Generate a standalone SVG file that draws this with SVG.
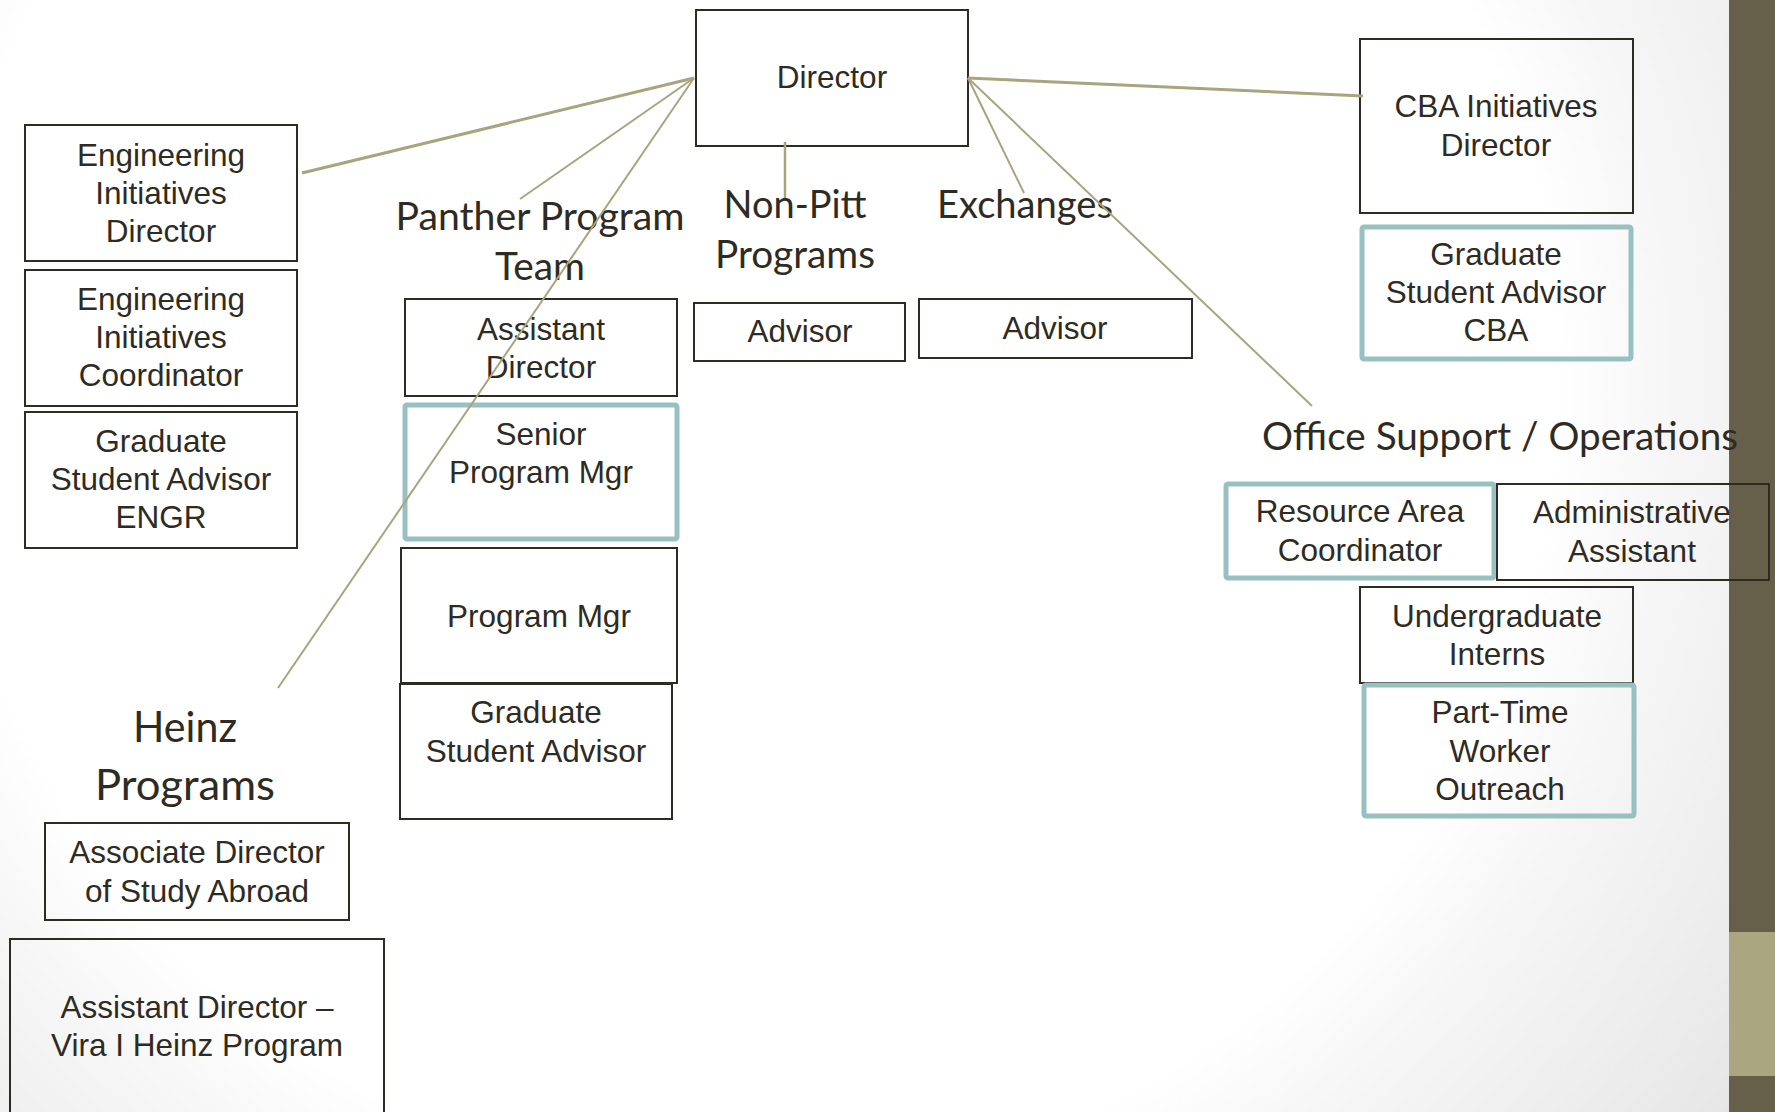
<svg xmlns="http://www.w3.org/2000/svg" width="1775" height="1112" viewBox="0 0 1775 1112">
  <defs>
    <radialGradient id="bg" gradientUnits="userSpaceOnUse" cx="750" cy="380" r="1300">
      <stop offset="0" stop-color="#ffffff"/>
      <stop offset="0.62" stop-color="#ffffff"/>
      <stop offset="0.7" stop-color="#f7f7f7"/>
      <stop offset="1" stop-color="#e2e2e2"/>
    </radialGradient>
    <style>
      .box { fill: none; stroke: #2e2b23; stroke-width: 2; }
      .hl { fill: none; stroke: #99c0c0; stroke-width: 5; }
      .t { font-family: "Liberation Sans", Arial, sans-serif; font-size: 31.5px; fill: #2e2b23; text-anchor: middle; }
      .h { font-family: Lato, "Open Sans", sans-serif; font-size: 38px; fill: #2e2b23; text-anchor: middle; }
      .hb { font-family: Lato, "Open Sans", sans-serif; font-size: 43px; fill: #2e2b23; text-anchor: middle; }
      .ln { stroke: #a8a47e; fill: none; stroke-linecap: butt; }
    </style>
  </defs>

  <!-- backdrop and side band -->
  <rect x="0" y="0" width="1775" height="1112" fill="url(#bg)"/>
  <rect x="1729" y="0" width="46" height="1112" fill="#665f49"/>
  <rect x="1729" y="932" width="46" height="144" fill="#a9a680"/>

  <!-- top -->
  <g id="director">
    <rect class="box" x="696" y="10" width="272" height="136"/>
    <text class="t" x="832" y="88">Director</text>
  </g>

  <!-- engineering column -->
  <g id="eng-initiatives-director">
    <rect class="box" x="25" y="125" width="272" height="136"/>
    <text class="t" x="161" y="166">Engineering</text>
    <text class="t" x="161" y="204">Initiatives</text>
    <text class="t" x="161" y="242">Director</text>
  </g>
  <g id="eng-initiatives-coordinator">
    <rect class="box" x="25" y="270" width="272" height="136"/>
    <text class="t" x="161" y="310">Engineering</text>
    <text class="t" x="161" y="348">Initiatives</text>
    <text class="t" x="161" y="386">Coordinator</text>
  </g>
  <g id="grad-advisor-engr">
    <rect class="box" x="25" y="412" width="272" height="136"/>
    <text class="t" x="161" y="452">Graduate</text>
    <text class="t" x="161" y="490">Student Advisor</text>
    <text class="t" x="161" y="528">ENGR</text>
  </g>

  <!-- Panther Program team -->
  <g id="panther-team">
    <text class="h" x="540" y="230" textLength="289" lengthAdjust="spacingAndGlyphs">Panther Program</text>
    <text class="h" x="540" y="280" textLength="90" lengthAdjust="spacingAndGlyphs">Team</text>
  </g>
  <g id="assistant-director">
    <rect class="box" x="405" y="299" width="272" height="97"/>
    <text class="t" x="541" y="340">Assistant</text>
    <text class="t" x="541" y="378">Director</text>
  </g>
  <g id="senior-program-mgr">
    <rect class="hl" x="405" y="405" width="272" height="134" rx="2"/>
    <text class="t" x="541" y="445">Senior</text>
    <text class="t" x="541" y="483">Program Mgr</text>
  </g>
  <g id="program-mgr">
    <rect class="box" x="401" y="548" width="276" height="135"/>
    <text class="t" x="539" y="627">Program Mgr</text>
  </g>
  <g id="grad-advisor-panther">
    <rect class="box" x="400" y="684" width="272" height="135"/>
    <text class="t" x="536" y="723">Graduate</text>
    <text class="t" x="536" y="762">Student Advisor</text>
  </g>

  <!-- Heinz programs -->
  <g id="heinz-programs">
    <text class="hb" x="185" y="742" textLength="104" lengthAdjust="spacingAndGlyphs">Heinz</text>
    <text class="hb" x="185" y="800" textLength="180" lengthAdjust="spacingAndGlyphs">Programs</text>
  </g>
  <g id="associate-director-study-abroad">
    <rect class="box" x="45" y="823" width="304" height="97"/>
    <text class="t" x="197" y="863">Associate Director</text>
    <text class="t" x="197" y="902">of Study Abroad</text>
  </g>
  <g id="assistant-director-vira-heinz">
    <rect class="box" x="10" y="939" width="374" height="200"/>
    <text class="t" x="197" y="1018">Assistant Director –</text>
    <text class="t" x="197" y="1056">Vira I Heinz Program</text>
  </g>

  <!-- Non-Pitt programs and exchanges -->
  <g id="non-pitt-programs">
    <text class="h" x="795" y="218" textLength="143" lengthAdjust="spacingAndGlyphs">Non-Pitt</text>
    <text class="h" x="795" y="268" textLength="160" lengthAdjust="spacingAndGlyphs">Programs</text>
  </g>
  <g id="advisor-non-pitt">
    <rect class="box" x="694" y="303" width="211" height="58"/>
    <text class="t" x="800" y="342">Advisor</text>
  </g>
  <g id="exchanges">
    <text class="h" x="1025" y="218" textLength="176" lengthAdjust="spacingAndGlyphs">Exchanges</text>
  </g>
  <g id="advisor-exchanges">
    <rect class="box" x="919" y="299" width="273" height="59"/>
    <text class="t" x="1055" y="339">Advisor</text>
  </g>

  <!-- CBA -->
  <g id="cba-initiatives-director">
    <rect class="box" x="1360" y="39" width="273" height="174"/>
    <text class="t" x="1496" y="117">CBA Initiatives</text>
    <text class="t" x="1496" y="156">Director</text>
  </g>
  <g id="grad-advisor-cba">
    <rect class="hl" x="1362" y="227" width="269" height="132" rx="2"/>
    <text class="t" x="1496" y="265">Graduate</text>
    <text class="t" x="1496" y="303">Student Advisor</text>
    <text class="t" x="1496" y="341">CBA</text>
  </g>

  <!-- Office support / operations -->
  <g id="office-support">
    <text class="h" x="1500" y="450" textLength="476" lengthAdjust="spacingAndGlyphs">Office Support / Operations</text>
  </g>
  <g id="resource-area-coordinator">
    <rect class="hl" x="1226" y="484" width="268" height="94" rx="2"/>
    <text class="t" x="1360" y="522">Resource Area</text>
    <text class="t" x="1360" y="561">Coordinator</text>
  </g>
  <g id="administrative-assistant">
    <rect class="box" x="1497" y="484" width="272" height="96"/>
    <text class="t" x="1632" y="523">Administrative</text>
    <text class="t" x="1632" y="562">Assistant</text>
  </g>
  <g id="undergraduate-interns">
    <rect class="box" x="1360" y="587" width="273" height="96"/>
    <text class="t" x="1497" y="627">Undergraduate</text>
    <text class="t" x="1497" y="665">Interns</text>
  </g>
  <g id="part-time-worker-outreach">
    <rect class="hl" x="1364" y="685" width="270" height="131" rx="2"/>
    <text class="t" x="1500" y="723">Part-Time</text>
    <text class="t" x="1500" y="762">Worker</text>
    <text class="t" x="1500" y="800">Outreach</text>
  </g>

  <!-- reporting lines from the Director -->
  <g id="connectors">
    <line class="ln" stroke-width="3" x1="694" y1="78" x2="302" y2="173"/>
    <line class="ln" stroke-width="2" x1="694" y1="78" x2="520" y2="199"/>
    <line class="ln" stroke-width="2" x1="694" y1="78" x2="278" y2="688"/>
    <line class="ln" stroke-width="2.5" x1="785" y1="142" x2="785" y2="198"/>
    <line class="ln" stroke-width="3" x1="968" y1="78" x2="1363" y2="96"/>
    <line class="ln" stroke-width="2" x1="968" y1="78" x2="1024" y2="193"/>
    <line class="ln" stroke-width="2" x1="968" y1="78" x2="1312" y2="406"/>
  </g>
</svg>
